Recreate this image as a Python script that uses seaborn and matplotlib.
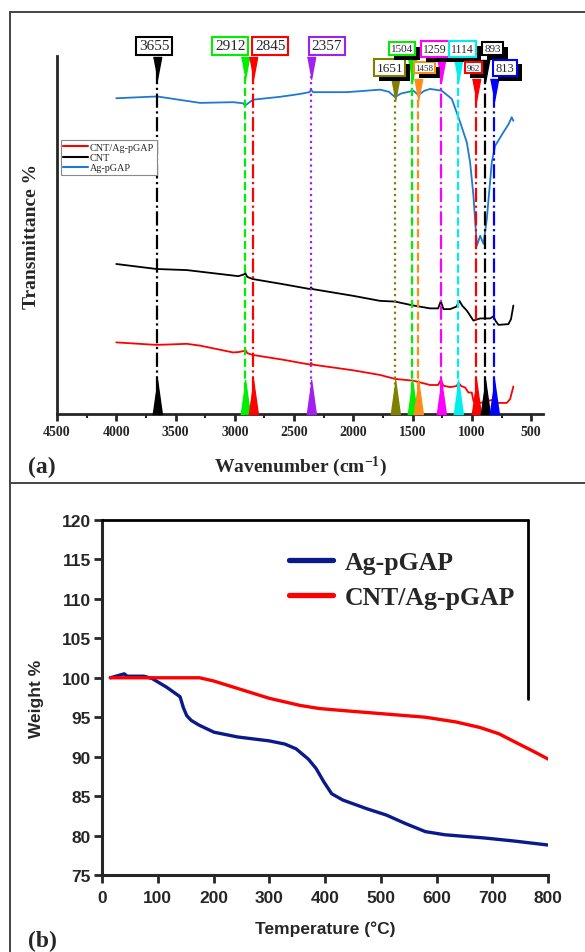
import numpy as np
import pandas as pd
import seaborn as sns
import matplotlib.pyplot as plt
import matplotlib.patheffects as pe
from matplotlib.lines import Line2D

# ---- (a) FTIR spectra (transmittance, arbitrary offset units) ----
wn_ag = [4000, 3655, 3293, 3015, 2930, 2914, 2880, 2846, 2618, 2449, 2370, 2357, 2340,
         2055, 1774, 1700, 1648, 1600, 1493, 1451, 1400, 1352, 1254, 1169, 1099, 1043,
         1015, 987, 958, 930, 902, 874, 832, 804, 734, 690, 664, 650]
t_ag = [88.2, 88.7, 86.9, 87.1, 86.8, 86.1, 87.0, 87.8, 88.6, 89.4, 89.9, 90.6, 89.9,
        89.9, 90.6, 90.0, 88.5, 89.5, 90.3, 89.1, 90.3, 90.8, 90.3, 88.0, 81.5, 75.9,
        70.3, 61.0, 47.0, 49.8, 47.5, 54.5, 70.3, 74.9, 78.7, 81.0, 82.9, 81.9]

wn_cnt = [4000, 3659, 3405, 3200, 2970, 2922, 2912, 2895, 2849, 2600, 2365, 2357, 2345,
          2000, 1774, 1648, 1493, 1352, 1285, 1262, 1240, 1183, 1130, 1105, 1080, 1043,
          987, 930, 902, 846, 818, 800, 776, 692, 670, 650]
t_cnt = [41.9, 40.5, 40.2, 39.4, 38.5, 39.0, 39.4, 38.3, 37.7, 36.3, 34.9, 35.4, 34.9,
         33.0, 31.6, 31.4, 30.3, 29.5, 29.5, 31.5, 29.3, 29.3, 30.0, 31.6, 30.2, 28.9,
         26.1, 26.7, 26.7, 26.7, 27.3, 26.0, 24.9, 25.1, 26.5, 30.3]

wn_cnt_ag = [4000, 3659, 3405, 3293, 3015, 2970, 2922, 2912, 2895, 2849, 2600, 2365, 2357,
             2345, 2000, 1774, 1648, 1493, 1352, 1285, 1262, 1240, 1183, 1130, 1113, 1090,
             1057, 1029, 1001, 987, 964, 930, 902, 860, 818, 790, 705, 677, 650]
t_cnt_ag = [20.0, 19.3, 19.6, 19.1, 17.2, 17.3, 17.6, 18.0, 17.0, 16.5, 15.2, 13.8, 14.3,
            13.8, 12.2, 10.9, 9.8, 9.3, 8.1, 8.1, 9.5, 7.9, 7.5, 7.8, 8.7, 7.8,
            7.4, 6.0, 6.0, 3.7, 2.5, 3.1, 3.3, 3.7, 4.0, 3.1, 3.1, 4.2, 7.7]

peak_wn = [3655, 2912, 2845, 2357, 1651, 1504, 1458, 1259, 1114, 962, 893, 813]
peak_labels = [str(p) for p in peak_wn]

# ---- (b) TGA ----
temp_ag = [15, 30, 40, 45, 75, 90, 116, 140, 146, 152, 160, 174, 201, 243, 300, 328, 348,
           370, 384, 398, 412, 432, 475, 510, 545, 580, 615, 685, 740, 800]
w_ag = [100.0, 100.3, 100.5, 100.2, 100.2, 99.9, 98.8, 97.6, 96.2, 95.2, 94.6, 94.0, 93.1,
        92.5, 92.0, 91.6, 91.0, 89.7, 88.5, 86.8, 85.3, 84.5, 83.4, 82.6, 81.5, 80.5,
        80.1, 79.7, 79.3, 78.8]
temp_cnt = [15, 175, 200, 250, 300, 355, 390, 440, 510, 580, 635, 678, 712, 748, 776, 800]
w_cnt = [100.0, 100.0, 99.6, 98.5, 97.4, 96.5, 96.1, 95.8, 95.4, 95.0, 94.4, 93.7, 92.9,
         91.6, 90.6, 89.7]

# peak marker styles / label layout
peak_colors = ["black", "#00ee00", "#ff0000", "#a020f0", "#808000", "#00ee00", "#ff8c1a",
               "#ff00ff", "#00eeee", "#ff0000", "black", "#0000ff"]
peak_ls = ["-.", "--", "-.", ":", ":", "--", "--", "-.", "--", "-.", "-.", "-."]
box_dx = [-3, -15, 17, 16, -5, -10, 7, -6, 4, -3, 8, 11]          # px
box_y = [1.028, 1.028, 1.028, 1.028, 0.967, 1.02, 0.967, 1.02, 1.02, 0.967, 1.02, 0.967]
box_fs = [11, 11, 11, 11, 9.5, 8, 6.5, 8.5, 8.5, 6.5, 8, 9]
box_shadow = [False] * 4 + [True] * 8

sns.set_style("ticks")
plt.rcParams["font.family"] = ["Liberation Serif", "DejaVu Serif"]
plt.rcParams["mathtext.fontset"] = "custom"
plt.rcParams["mathtext.rm"] = "Liberation Serif"
plt.rcParams["mathtext.bf"] = "Liberation Serif:bold"

W, H = 585, 953
fig = plt.figure(figsize=(W / 100, H / 100), dpi=100)


def px_box(x0, y0, x1, y1):
    return [x0 / W, 1 - y1 / H, (x1 - x0) / W, (y1 - y0) / H]


# ------------------- panel (a) -------------------
ax1 = fig.add_axes(px_box(57, 57, 543, 415))
for wn, t, col, lab in [(wn_cnt_ag, t_cnt_ag, "#ff0000", "CNT/Ag-pGAP"),
                        (wn_cnt, t_cnt, "black", "CNT"),
                        (wn_ag, t_ag, "#1f78d1", "Ag-pGAP")]:
    df = pd.DataFrame({"wn": wn, "T": t})
    sns.lineplot(data=df, x="wn", y="T", ax=ax1, color=col, lw=1.3, label=lab,
                 estimator=None, sort=False)

ax1.set_xlim(4500, 400)
ax1.set_ylim(0, 100)
ax1.set_xticks(np.arange(4500, 499, -500))
ax1.set_xticks(np.arange(4250, 400, -500), minor=True)
ax1.set_yticks([])
for s in ["top", "right"]:
    ax1.spines[s].set_visible(False)
for s in ["left", "bottom"]:
    ax1.spines[s].set_linewidth(2)
ax1.tick_params(axis="x", which="major", direction="out", length=5, width=2, pad=3,
                labelsize=10)
ax1.tick_params(axis="x", which="minor", direction="out", length=3, width=1.5)
for lbl in ax1.get_xticklabels():
    lbl.set_fontweight("bold")
ax1.set_xlabel("Wavenumber (cm$\\mathbf{^{-1}}$)", fontsize=14, fontweight="bold")
ax1.set_ylabel("Transmittance %", fontsize=14, fontweight="bold")
ax1.xaxis.set_label_coords(0.5, -0.112)
ax1.yaxis.set_label_coords(-0.035, 0.5)

leg = ax1.legend(loc="upper left", bbox_to_anchor=(0.008, 0.765), borderaxespad=0,
                 fontsize=7.3, handlelength=2.4, handletextpad=0.2, labelspacing=0.12,
                 borderpad=0.25, fancybox=False, framealpha=1, edgecolor="#888888")
leg.get_frame().set_linewidth(0.8)
for ln in leg.get_lines():
    ln.set_linewidth(1.5)

xt = ax1.get_xaxis_transform()
up_tri = [(-3.5, 0), (3.5, 0), (0, 25)]
down_tri = [(-3.0, 0), (3.0, 0), (0, -16)]
for i, wn in enumerate(peak_wn):
    col = peak_colors[i]
    top = box_y[i] - (0.032 if box_y[i] > 1 else 0.03)
    ax1.plot([wn, wn], [0, top], transform=xt, color=col, ls=peak_ls[i], lw=1.6,
             clip_on=False, zorder=3)
    ax1.plot(wn, 0, transform=xt, marker=up_tri, ms=50, color=col, mec=col,
             clip_on=False, zorder=4)
    ax1.plot(wn, top, transform=xt, marker=down_tri, ms=32, color=col, mec=col,
             clip_on=False, zorder=4)
    ann = ax1.annotate(peak_labels[i], xy=(wn, box_y[i]), xycoords=xt,
                       xytext=(box_dx[i] * 0.72, 0), textcoords="offset points",
                       ha="center", va="center", fontsize=box_fs[i], zorder=6 + i,
                       annotation_clip=False,
                       bbox=dict(boxstyle="square,pad=0.18", fc="white", ec=col, lw=1.5))
    if box_shadow[i]:
        ann.get_bbox_patch().set_path_effects(
            [pe.withSimplePatchShadow(offset=(3.5, -3.5), shadow_rgbFace="black", alpha=1)])

# ------------------- panel (b) -------------------
ax2 = fig.add_axes(px_box(102, 521, 548, 876))
sns.lineplot(x=temp_ag, y=w_ag, ax=ax2, color="#0a1a8a", lw=2.4, label="Ag-pGAP")
sns.lineplot(x=temp_cnt, y=w_cnt, ax=ax2, color="#ff0000", lw=2.4, label="CNT/Ag-pGAP")
ax2.set_xlim(0, 800)
ax2.set_ylim(75, 120)
ax2.set_xticks(range(0, 801, 100))
ax2.set_yticks(range(75, 121, 5))
for s in ["top", "right"]:
    ax2.spines[s].set_visible(False)
for s in ["left", "bottom"]:
    ax2.spines[s].set_linewidth(2.2)
ax2.tick_params(direction="out", length=6, width=2, pad=2, labelsize=12.5)
ax2.tick_params(axis="x", pad=5)
for lbl in ax2.get_xticklabels() + ax2.get_yticklabels():
    lbl.set_fontweight("bold")
    lbl.set_family("Liberation Sans")
ax2.set_xlabel("Temperature (\u00b0C)", fontsize=12.5, fontweight="bold",
               family="Liberation Sans")
ax2.set_ylabel("Weight %", fontsize=12.5, fontweight="bold", family="Liberation Sans")
ax2.xaxis.set_label_coords(0.5, -0.128)
ax2.yaxis.set_label_coords(-0.13, 0.5)

leg2 = ax2.legend(loc="upper left", bbox_to_anchor=(0.397, 0.942), borderaxespad=0,
                  prop={"family": "Liberation Serif", "weight": "bold", "size": 18.5},
                  handlelength=1.7, handletextpad=0.45, labelspacing=0.46, frameon=False)
for ln in leg2.get_lines():
    ln.set_linewidth(3.8)

# legend frame: top edge on the plot top, right edge left of 800
for (x0, y0, x1, y1) in [(102, 521, 528, 521), (528, 521, 528, 700)]:
    fig.add_artist(Line2D([x0 / W, x1 / W], [1 - y0 / H, 1 - y1 / H],
                          transform=fig.transFigure, color="black", lw=2.0))

# panel frames and tags
for (x0, y0, x1, y1) in [(10, 13, 10, 953), (10, 13, 585, 13), (10, 484, 585, 484)]:
    fig.add_artist(Line2D([x0 / W, x1 / W], [1 - y0 / H, 1 - y1 / H],
                          transform=fig.transFigure, color="#444444", lw=1.4))
fig.text(42 / W, 1 - 467 / H, "(a)", fontsize=17, fontweight="bold", ha="center", va="center")
fig.text(42 / W, 1 - 941 / H, "(b)", fontsize=17, fontweight="bold", ha="center", va="center")

fig.savefig("out.png", dpi=100)
